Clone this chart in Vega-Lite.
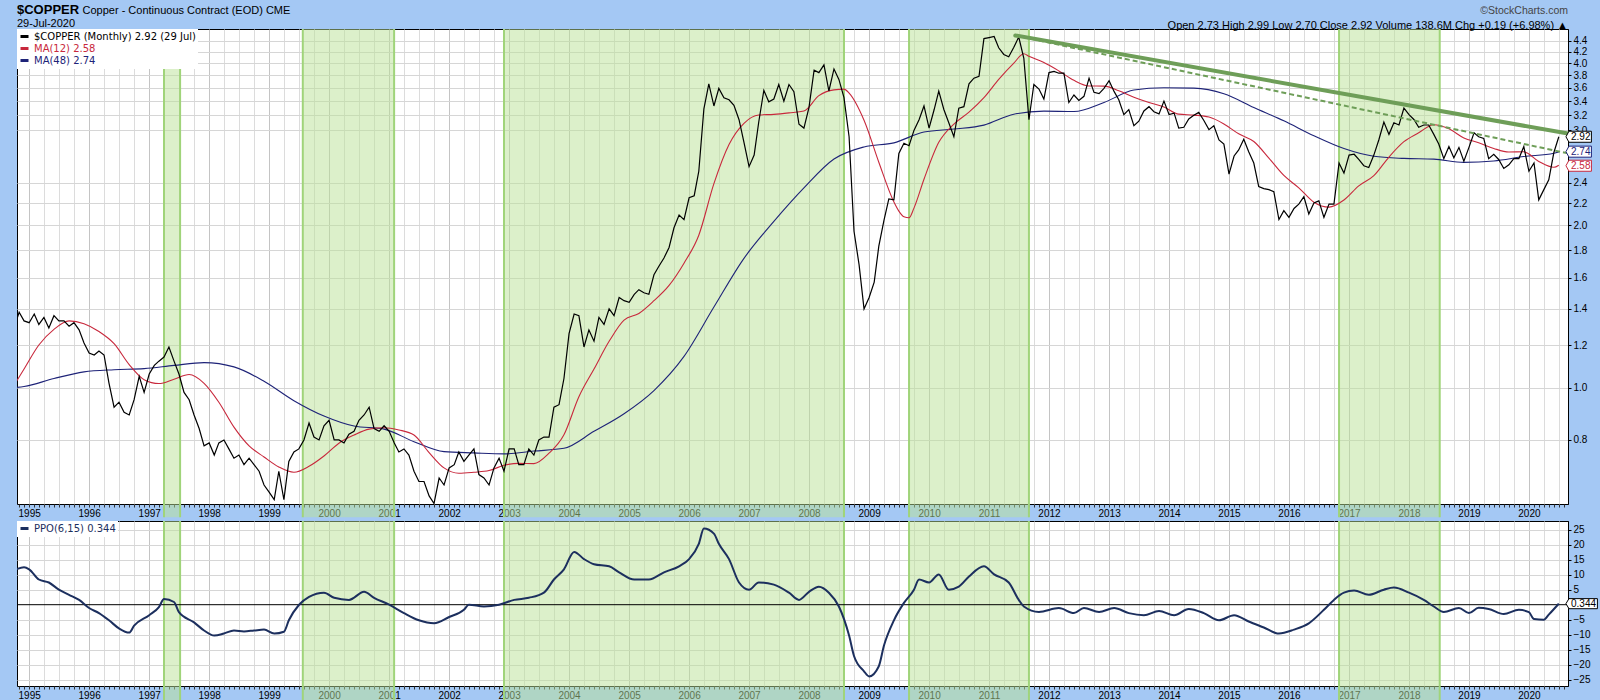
{
"$schema": "https://vega.github.io/schema/vega-lite/v6.json",
"background": "#a4c8f4",
"padding": {"left": 16, "right": 3, "top": 3, "bottom": 0},
"datasets": {
"price": [
{"d":"1994-10-01","v":1.29},{"d":"1994-11-01","v":1.38},{"d":"1994-12-01","v":1.33},
{"d":"1995-01-01","v":1.32},{"d":"1995-02-01","v":1.37},{"d":"1995-03-01","v":1.31},{"d":"1995-04-01","v":1.35},{"d":"1995-05-01","v":1.29},{"d":"1995-06-01","v":1.36},{"d":"1995-07-01","v":1.33},{"d":"1995-08-01","v":1.33},{"d":"1995-09-01","v":1.30},{"d":"1995-10-01","v":1.32},{"d":"1995-11-01","v":1.28},{"d":"1995-12-01","v":1.21},
{"d":"1996-01-01","v":1.16},{"d":"1996-02-01","v":1.15},{"d":"1996-03-01","v":1.17},{"d":"1996-04-01","v":1.15},{"d":"1996-05-01","v":1.02},{"d":"1996-06-01","v":0.92},{"d":"1996-07-01","v":0.94},{"d":"1996-08-01","v":0.90},{"d":"1996-09-01","v":0.89},{"d":"1996-10-01","v":0.95},{"d":"1996-11-01","v":1.05},{"d":"1996-12-01","v":0.98},
{"d":"1997-01-01","v":1.06},{"d":"1997-02-01","v":1.10},{"d":"1997-03-01","v":1.12},{"d":"1997-04-01","v":1.14},{"d":"1997-05-01","v":1.19},{"d":"1997-06-01","v":1.12},{"d":"1997-07-01","v":1.06},{"d":"1997-08-01","v":0.98},{"d":"1997-09-01","v":0.95},{"d":"1997-10-01","v":0.89},{"d":"1997-11-01","v":0.84},{"d":"1997-12-01","v":0.78},
{"d":"1998-01-01","v":0.79},{"d":"1998-02-01","v":0.75},{"d":"1998-03-01","v":0.79},{"d":"1998-04-01","v":0.80},{"d":"1998-05-01","v":0.77},{"d":"1998-06-01","v":0.74},{"d":"1998-07-01","v":0.75},{"d":"1998-08-01","v":0.72},{"d":"1998-09-01","v":0.74},{"d":"1998-10-01","v":0.72},{"d":"1998-11-01","v":0.70},{"d":"1998-12-01","v":0.66},
{"d":"1999-01-01","v":0.64},{"d":"1999-02-01","v":0.62},{"d":"1999-03-01","v":0.70},{"d":"1999-04-01","v":0.62},{"d":"1999-05-01","v":0.73},{"d":"1999-06-01","v":0.76},{"d":"1999-07-01","v":0.77},{"d":"1999-08-01","v":0.80},{"d":"1999-09-01","v":0.86},{"d":"1999-10-01","v":0.81},{"d":"1999-11-01","v":0.80},{"d":"1999-12-01","v":0.85},
{"d":"2000-01-01","v":0.87},{"d":"2000-02-01","v":0.80},{"d":"2000-03-01","v":0.80},{"d":"2000-04-01","v":0.79},{"d":"2000-05-01","v":0.82},{"d":"2000-06-01","v":0.83},{"d":"2000-07-01","v":0.87},{"d":"2000-08-01","v":0.89},{"d":"2000-09-01","v":0.92},{"d":"2000-10-01","v":0.84},{"d":"2000-11-01","v":0.83},{"d":"2000-12-01","v":0.85},
{"d":"2001-01-01","v":0.83},{"d":"2001-02-01","v":0.79},{"d":"2001-03-01","v":0.76},{"d":"2001-04-01","v":0.77},{"d":"2001-05-01","v":0.75},{"d":"2001-06-01","v":0.70},{"d":"2001-07-01","v":0.67},{"d":"2001-08-01","v":0.67},{"d":"2001-09-01","v":0.63},{"d":"2001-10-01","v":0.61},{"d":"2001-11-01","v":0.68},{"d":"2001-12-01","v":0.66},
{"d":"2002-01-01","v":0.71},{"d":"2002-02-01","v":0.72},{"d":"2002-03-01","v":0.76},{"d":"2002-04-01","v":0.73},{"d":"2002-05-01","v":0.75},{"d":"2002-06-01","v":0.77},{"d":"2002-07-01","v":0.69},{"d":"2002-08-01","v":0.68},{"d":"2002-09-01","v":0.66},{"d":"2002-10-01","v":0.71},{"d":"2002-11-01","v":0.74},{"d":"2002-12-01","v":0.70},
{"d":"2003-01-01","v":0.77},{"d":"2003-02-01","v":0.77},{"d":"2003-03-01","v":0.72},{"d":"2003-04-01","v":0.72},{"d":"2003-05-01","v":0.77},{"d":"2003-06-01","v":0.75},{"d":"2003-07-01","v":0.80},{"d":"2003-08-01","v":0.81},{"d":"2003-09-01","v":0.81},{"d":"2003-10-01","v":0.92},{"d":"2003-11-01","v":0.93},{"d":"2003-12-01","v":1.04},
{"d":"2004-01-01","v":1.26},{"d":"2004-02-01","v":1.37},{"d":"2004-03-01","v":1.36},{"d":"2004-04-01","v":1.19},{"d":"2004-05-01","v":1.28},{"d":"2004-06-01","v":1.22},{"d":"2004-07-01","v":1.35},{"d":"2004-08-01","v":1.31},{"d":"2004-09-01","v":1.40},{"d":"2004-10-01","v":1.36},{"d":"2004-11-01","v":1.47},{"d":"2004-12-01","v":1.45},
{"d":"2005-01-01","v":1.44},{"d":"2005-02-01","v":1.49},{"d":"2005-03-01","v":1.52},{"d":"2005-04-01","v":1.50},{"d":"2005-05-01","v":1.49},{"d":"2005-06-01","v":1.62},{"d":"2005-07-01","v":1.68},{"d":"2005-08-01","v":1.74},{"d":"2005-09-01","v":1.82},{"d":"2005-10-01","v":1.98},{"d":"2005-11-01","v":2.09},{"d":"2005-12-01","v":2.05},
{"d":"2006-01-01","v":2.25},{"d":"2006-02-01","v":2.27},{"d":"2006-03-01","v":2.52},{"d":"2006-04-01","v":3.29},{"d":"2006-05-01","v":3.66},{"d":"2006-06-01","v":3.33},{"d":"2006-07-01","v":3.59},{"d":"2006-08-01","v":3.45},{"d":"2006-09-01","v":3.42},{"d":"2006-10-01","v":3.34},{"d":"2006-11-01","v":3.14},{"d":"2006-12-01","v":2.85},
{"d":"2007-01-01","v":2.57},{"d":"2007-02-01","v":2.70},{"d":"2007-03-01","v":3.11},{"d":"2007-04-01","v":3.56},{"d":"2007-05-01","v":3.39},{"d":"2007-06-01","v":3.43},{"d":"2007-07-01","v":3.65},{"d":"2007-08-01","v":3.40},{"d":"2007-09-01","v":3.65},{"d":"2007-10-01","v":3.54},{"d":"2007-11-01","v":3.08},{"d":"2007-12-01","v":3.03},
{"d":"2008-01-01","v":3.31},{"d":"2008-02-01","v":3.88},{"d":"2008-03-01","v":3.84},{"d":"2008-04-01","v":3.97},{"d":"2008-05-01","v":3.55},{"d":"2008-06-01","v":3.90},{"d":"2008-07-01","v":3.73},{"d":"2008-08-01","v":3.45},{"d":"2008-09-01","v":2.92},{"d":"2008-10-01","v":1.95},{"d":"2008-11-01","v":1.69},{"d":"2008-12-01","v":1.40},
{"d":"2009-01-01","v":1.47},{"d":"2009-02-01","v":1.57},{"d":"2009-03-01","v":1.83},{"d":"2009-04-01","v":2.04},{"d":"2009-05-01","v":2.24},{"d":"2009-06-01","v":2.23},{"d":"2009-07-01","v":2.72},{"d":"2009-08-01","v":2.84},{"d":"2009-09-01","v":2.81},{"d":"2009-10-01","v":3.00},{"d":"2009-11-01","v":3.14},{"d":"2009-12-01","v":3.33},
{"d":"2010-01-01","v":3.03},{"d":"2010-02-01","v":3.28},{"d":"2010-03-01","v":3.55},{"d":"2010-04-01","v":3.28},{"d":"2010-05-01","v":3.10},{"d":"2010-06-01","v":2.92},{"d":"2010-07-01","v":3.30},{"d":"2010-08-01","v":3.32},{"d":"2010-09-01","v":3.66},{"d":"2010-10-01","v":3.75},{"d":"2010-11-01","v":3.78},{"d":"2010-12-01","v":4.44},
{"d":"2011-01-01","v":4.46},{"d":"2011-02-01","v":4.48},{"d":"2011-03-01","v":4.27},{"d":"2011-04-01","v":4.15},{"d":"2011-05-01","v":4.11},{"d":"2011-06-01","v":4.28},{"d":"2011-07-01","v":4.47},{"d":"2011-08-01","v":4.08},{"d":"2011-09-01","v":3.14},{"d":"2011-10-01","v":3.65},{"d":"2011-11-01","v":3.58},{"d":"2011-12-01","v":3.43},
{"d":"2012-01-01","v":3.84},{"d":"2012-02-01","v":3.86},{"d":"2012-03-01","v":3.83},{"d":"2012-04-01","v":3.83},{"d":"2012-05-01","v":3.38},{"d":"2012-06-01","v":3.49},{"d":"2012-07-01","v":3.41},{"d":"2012-08-01","v":3.47},{"d":"2012-09-01","v":3.75},{"d":"2012-10-01","v":3.53},{"d":"2012-11-01","v":3.51},{"d":"2012-12-01","v":3.59},
{"d":"2013-01-01","v":3.71},{"d":"2013-02-01","v":3.54},{"d":"2013-03-01","v":3.42},{"d":"2013-04-01","v":3.21},{"d":"2013-05-01","v":3.28},{"d":"2013-06-01","v":3.06},{"d":"2013-07-01","v":3.12},{"d":"2013-08-01","v":3.26},{"d":"2013-09-01","v":3.32},{"d":"2013-10-01","v":3.25},{"d":"2013-11-01","v":3.22},{"d":"2013-12-01","v":3.40},
{"d":"2014-01-01","v":3.21},{"d":"2014-02-01","v":3.23},{"d":"2014-03-01","v":3.03},{"d":"2014-04-01","v":3.04},{"d":"2014-05-01","v":3.15},{"d":"2014-06-01","v":3.20},{"d":"2014-07-01","v":3.24},{"d":"2014-08-01","v":3.13},{"d":"2014-09-01","v":3.01},{"d":"2014-10-01","v":3.06},{"d":"2014-11-01","v":2.88},{"d":"2014-12-01","v":2.83},
{"d":"2015-01-01","v":2.49},{"d":"2015-02-01","v":2.69},{"d":"2015-03-01","v":2.76},{"d":"2015-04-01","v":2.89},{"d":"2015-05-01","v":2.74},{"d":"2015-06-01","v":2.61},{"d":"2015-07-01","v":2.36},{"d":"2015-08-01","v":2.34},{"d":"2015-09-01","v":2.33},{"d":"2015-10-01","v":2.31},{"d":"2015-11-01","v":2.05},{"d":"2015-12-01","v":2.13},
{"d":"2016-01-01","v":2.07},{"d":"2016-02-01","v":2.15},{"d":"2016-03-01","v":2.19},{"d":"2016-04-01","v":2.26},{"d":"2016-05-01","v":2.10},{"d":"2016-06-01","v":2.20},{"d":"2016-07-01","v":2.22},{"d":"2016-08-01","v":2.07},{"d":"2016-09-01","v":2.19},{"d":"2016-10-01","v":2.19},{"d":"2016-11-01","v":2.61},{"d":"2016-12-01","v":2.50},
{"d":"2017-01-01","v":2.70},{"d":"2017-02-01","v":2.71},{"d":"2017-03-01","v":2.65},{"d":"2017-04-01","v":2.58},{"d":"2017-05-01","v":2.56},{"d":"2017-06-01","v":2.70},{"d":"2017-07-01","v":2.88},{"d":"2017-08-01","v":3.11},{"d":"2017-09-01","v":2.95},{"d":"2017-10-01","v":3.10},{"d":"2017-11-01","v":3.07},{"d":"2017-12-01","v":3.30},
{"d":"2018-01-01","v":3.21},{"d":"2018-02-01","v":3.14},{"d":"2018-03-01","v":3.04},{"d":"2018-04-01","v":3.07},{"d":"2018-05-01","v":3.07},{"d":"2018-06-01","v":2.95},{"d":"2018-07-01","v":2.83},{"d":"2018-08-01","v":2.66},{"d":"2018-09-01","v":2.80},{"d":"2018-10-01","v":2.67},{"d":"2018-11-01","v":2.79},{"d":"2018-12-01","v":2.63},
{"d":"2019-01-01","v":2.79},{"d":"2019-02-01","v":2.97},{"d":"2019-03-01","v":2.92},{"d":"2019-04-01","v":2.90},{"d":"2019-05-01","v":2.66},{"d":"2019-06-01","v":2.71},{"d":"2019-07-01","v":2.65},{"d":"2019-08-01","v":2.55},{"d":"2019-09-01","v":2.59},{"d":"2019-10-01","v":2.66},{"d":"2019-11-01","v":2.66},{"d":"2019-12-01","v":2.80},
{"d":"2020-01-01","v":2.52},{"d":"2020-02-01","v":2.61},{"d":"2020-03-01","v":2.23},{"d":"2020-04-01","v":2.33},{"d":"2020-05-01","v":2.43},{"d":"2020-06-01","v":2.73},{"d":"2020-07-01","v":2.92}
],
"ma12": [
{"d":"1994-10-01","v":1.01},{"d":"1994-12-01","v":1.083},{"d":"1995-03-01","v":1.200},{"d":"1995-06-01","v":1.283},{"d":"1995-09-01","v":1.330},{"d":"1995-12-01","v":1.314},
{"d":"1996-03-01","v":1.271},{"d":"1996-06-01","v":1.207},{"d":"1996-09-01","v":1.104},{"d":"1996-12-01","v":1.035},
{"d":"1997-03-01","v":1.018},{"d":"1997-06-01","v":1.037},{"d":"1997-09-01","v":1.058},{"d":"1997-12-01","v":1.019},
{"d":"1998-03-01","v":0.940},{"d":"1998-06-01","v":0.845},{"d":"1998-09-01","v":0.780},{"d":"1998-12-01","v":0.744},
{"d":"1999-03-01","v":0.713},{"d":"1999-06-01","v":0.697},{"d":"1999-09-01","v":0.715},{"d":"1999-12-01","v":0.747},
{"d":"2000-03-01","v":0.789},{"d":"2000-06-01","v":0.817},{"d":"2000-09-01","v":0.838},{"d":"2000-12-01","v":0.843},
{"d":"2001-03-01","v":0.835},{"d":"2001-06-01","v":0.817},{"d":"2001-09-01","v":0.758},{"d":"2001-12-01","v":0.710},
{"d":"2002-03-01","v":0.694},{"d":"2002-06-01","v":0.697},{"d":"2002-09-01","v":0.702},{"d":"2002-12-01","v":0.718},
{"d":"2003-03-01","v":0.724},{"d":"2003-06-01","v":0.723},{"d":"2003-09-01","v":0.756},{"d":"2003-12-01","v":0.818},
{"d":"2004-03-01","v":0.962},{"d":"2004-06-01","v":1.083},{"d":"2004-09-01","v":1.219},{"d":"2004-12-01","v":1.335},
{"d":"2005-03-01","v":1.373},{"d":"2005-06-01","v":1.450},{"d":"2005-09-01","v":1.548},{"d":"2005-12-01","v":1.702},
{"d":"2006-03-01","v":1.918},{"d":"2006-06-01","v":2.390},{"d":"2006-09-01","v":2.825},{"d":"2006-12-01","v":3.093},
{"d":"2007-03-01","v":3.204},{"d":"2007-06-01","v":3.213},{"d":"2007-09-01","v":3.233},{"d":"2007-12-01","v":3.259},
{"d":"2008-03-01","v":3.480},{"d":"2008-06-01","v":3.567},{"d":"2008-08-01","v":3.578},{"d":"2008-09-01","v":3.517},{"d":"2008-12-01","v":3.133},
{"d":"2009-03-01","v":2.619},{"d":"2009-06-01","v":2.210},{"d":"2009-07-01","v":2.126},{"d":"2009-08-01","v":2.075},{"d":"2009-09-01","v":2.066},{"d":"2009-10-01","v":2.153},{"d":"2009-12-01","v":2.435},
{"d":"2010-03-01","v":2.851},{"d":"2010-06-01","v":3.083},{"d":"2010-09-01","v":3.243},{"d":"2010-12-01","v":3.451},
{"d":"2011-03-01","v":3.730},{"d":"2011-06-01","v":3.999},{"d":"2011-08-01","v":4.162},{"d":"2011-09-01","v":4.117},{"d":"2011-12-01","v":4.008},
{"d":"2012-03-01","v":3.868},{"d":"2012-06-01","v":3.715},{"d":"2012-09-01","v":3.627},{"d":"2012-12-01","v":3.624},
{"d":"2013-03-01","v":3.553},{"d":"2013-06-01","v":3.457},{"d":"2013-09-01","v":3.379},{"d":"2013-12-01","v":3.316},
{"d":"2014-03-01","v":3.216},{"d":"2014-06-01","v":3.203},{"d":"2014-09-01","v":3.176},{"d":"2014-12-01","v":3.084},
{"d":"2015-03-01","v":2.957},{"d":"2015-06-01","v":2.861},{"d":"2015-09-01","v":2.665},{"d":"2015-12-01","v":2.475},
{"d":"2016-03-01","v":2.348},{"d":"2016-06-01","v":2.208},{"d":"2016-09-01","v":2.162},{"d":"2016-12-01","v":2.229},
{"d":"2017-03-01","v":2.367},{"d":"2017-06-01","v":2.473},{"d":"2017-09-01","v":2.678},{"d":"2017-12-01","v":2.859},
{"d":"2018-03-01","v":2.970},{"d":"2018-06-01","v":3.074},{"d":"2018-09-01","v":3.020},{"d":"2018-12-01","v":2.905},
{"d":"2019-03-01","v":2.846},{"d":"2019-06-01","v":2.778},{"d":"2019-09-01","v":2.736},{"d":"2019-12-01","v":2.738},
{"d":"2020-03-01","v":2.628},{"d":"2020-06-01","v":2.563},{"d":"2020-07-01","v":2.586}
],
"ma48": [
{"d":"1994-10-01","v":1.00},{"d":"1994-12-01","v":1.005},{"d":"1995-06-01","v":1.04},{"d":"1995-12-01","v":1.07},{"d":"1996-06-01","v":1.08},{"d":"1996-12-01","v":1.085},
{"d":"1997-06-01","v":1.10},{"d":"1997-12-01","v":1.113},{"d":"1998-06-01","v":1.093},{"d":"1998-12-01","v":1.028},
{"d":"1999-06-01","v":0.946},{"d":"1999-12-01","v":0.886},{"d":"2000-06-01","v":0.849},{"d":"2000-12-01","v":0.838},
{"d":"2001-06-01","v":0.794},{"d":"2001-12-01","v":0.761},{"d":"2002-06-01","v":0.757},{"d":"2002-12-01","v":0.754},
{"d":"2003-06-01","v":0.763},{"d":"2003-12-01","v":0.772},{"d":"2004-06-01","v":0.830},{"d":"2004-12-01","v":0.895},
{"d":"2005-06-01","v":0.988},{"d":"2005-12-01","v":1.143},{"d":"2006-06-01","v":1.411},{"d":"2006-12-01","v":1.737},
{"d":"2007-06-01","v":2.034},{"d":"2007-12-01","v":2.347},{"d":"2008-06-01","v":2.655},{"d":"2008-12-01","v":2.796},
{"d":"2009-06-01","v":2.845},{"d":"2009-12-01","v":2.980},{"d":"2010-06-01","v":3.018},{"d":"2010-12-01","v":3.069},
{"d":"2011-06-01","v":3.215},{"d":"2011-12-01","v":3.257},{"d":"2012-06-01","v":3.252},{"d":"2012-12-01","v":3.380},
{"d":"2013-06-01","v":3.564},{"d":"2013-12-01","v":3.600},{"d":"2014-06-01","v":3.594},{"d":"2014-12-01","v":3.508},
{"d":"2015-06-01","v":3.309},{"d":"2015-12-01","v":3.125},{"d":"2016-06-01","v":2.932},{"d":"2016-12-01","v":2.776},
{"d":"2017-06-01","v":2.686},{"d":"2017-12-01","v":2.662},{"d":"2018-06-01","v":2.654},{"d":"2018-12-01","v":2.617},
{"d":"2019-06-01","v":2.633},{"d":"2019-12-01","v":2.683},{"d":"2020-06-01","v":2.722},{"d":"2020-07-01","v":2.737}
],
"ppo": [
{"d":"1994-10-01","v":11.5},{"d":"1994-12-01","v":12.5},{"d":"1995-01-01","v":11.8},{"d":"1995-03-01","v":8.4},{"d":"1995-05-01","v":7.4},{"d":"1995-07-01","v":5.0},{"d":"1995-09-01","v":3.3},{"d":"1995-11-01","v":1.6},
{"d":"1996-01-01","v":-1.1},{"d":"1996-03-01","v":-2.8},{"d":"1996-05-01","v":-5.2},{"d":"1996-07-01","v":-7.9},{"d":"1996-09-01","v":-9.3},{"d":"1996-10-01","v":-7.0},
{"d":"1997-01-01","v":-3.5},{"d":"1997-03-01","v":-0.8},{"d":"1997-04-01","v":1.9},{"d":"1997-06-01","v":0.9},{"d":"1997-07-01","v":-2.5},{"d":"1997-10-01","v":-5.9},{"d":"1997-12-01","v":-8.6},
{"d":"1998-02-01","v":-10.3},{"d":"1998-04-01","v":-9.6},{"d":"1998-06-01","v":-8.6},{"d":"1998-08-01","v":-8.9},{"d":"1998-10-01","v":-8.6},{"d":"1998-12-01","v":-8.3},
{"d":"1999-02-01","v":-9.6},{"d":"1999-04-01","v":-9.0},{"d":"1999-05-01","v":-5.2},{"d":"1999-07-01","v":-0.1},{"d":"1999-09-01","v":2.6},{"d":"1999-12-01","v":4.0},
{"d":"2000-02-01","v":2.3},{"d":"2000-05-01","v":1.6},{"d":"2000-08-01","v":4.3},{"d":"2000-10-01","v":2.3},
{"d":"2001-01-01","v":0.0},{"d":"2001-04-01","v":-2.8},{"d":"2001-07-01","v":-5.2},{"d":"2001-10-01","v":-6.2},
{"d":"2002-01-01","v":-4.1},{"d":"2002-04-01","v":-1.7},{"d":"2002-05-01","v":0.0},{"d":"2002-08-01","v":-0.6},{"d":"2002-11-01","v":0.0},
{"d":"2003-02-01","v":1.6},{"d":"2003-05-01","v":2.3},{"d":"2003-08-01","v":4.0},{"d":"2003-10-01","v":8.4},{"d":"2003-12-01","v":11.8},
{"d":"2004-02-01","v":17.6},{"d":"2004-04-01","v":15.2},{"d":"2004-06-01","v":13.5},{"d":"2004-09-01","v":12.8},{"d":"2004-11-01","v":10.8},
{"d":"2005-02-01","v":8.4},{"d":"2005-05-01","v":8.4},{"d":"2005-08-01","v":10.8},{"d":"2005-11-01","v":12.8},
{"d":"2006-01-01","v":15.2},{"d":"2006-03-01","v":20.3},{"d":"2006-04-01","v":25.4},{"d":"2006-06-01","v":23.7},{"d":"2006-07-01","v":20.3},{"d":"2006-09-01","v":15.2},{"d":"2006-11-01","v":7.4},
{"d":"2007-01-01","v":5.0},{"d":"2007-03-01","v":7.4},{"d":"2007-06-01","v":6.7},{"d":"2007-09-01","v":4.0},{"d":"2007-11-01","v":1.6},
{"d":"2008-01-01","v":4.3},{"d":"2008-03-01","v":6.0},{"d":"2008-05-01","v":4.0},{"d":"2008-07-01","v":-0.6},{"d":"2008-09-01","v":-10.3},{"d":"2008-10-01","v":-17.1},{"d":"2008-12-01","v":-22.2},
{"d":"2009-01-01","v":-23.9},{"d":"2009-03-01","v":-20.5},{"d":"2009-04-01","v":-13.7},{"d":"2009-06-01","v":-5.2},{"d":"2009-08-01","v":0.6},{"d":"2009-10-01","v":5.0},{"d":"2009-11-01","v":8.4},
{"d":"2010-01-01","v":7.4},{"d":"2010-03-01","v":10.1},{"d":"2010-05-01","v":5.0},{"d":"2010-07-01","v":6.0},{"d":"2010-09-01","v":9.4},{"d":"2010-12-01","v":12.8},
{"d":"2011-02-01","v":10.1},{"d":"2011-05-01","v":7.4},{"d":"2011-07-01","v":1.6},{"d":"2011-08-01","v":-0.6},{"d":"2011-11-01","v":-2.4},
{"d":"2012-03-01","v":-1.1},{"d":"2012-06-01","v":-2.8},{"d":"2012-08-01","v":-1.1},{"d":"2012-11-01","v":-2.4},
{"d":"2013-02-01","v":-1.1},{"d":"2013-05-01","v":-2.8},{"d":"2013-08-01","v":-3.5},{"d":"2013-11-01","v":-2.1},
{"d":"2014-02-01","v":-3.5},{"d":"2014-05-01","v":-1.4},{"d":"2014-08-01","v":-2.8},{"d":"2014-11-01","v":-5.2},
{"d":"2015-02-01","v":-3.5},{"d":"2015-05-01","v":-5.6},{"d":"2015-08-01","v":-7.6},{"d":"2015-11-01","v":-9.6},
{"d":"2016-02-01","v":-8.3},{"d":"2016-05-01","v":-6.2},{"d":"2016-08-01","v":-1.7},{"d":"2016-10-01","v":1.6},{"d":"2016-12-01","v":4.0},
{"d":"2017-02-01","v":4.7},{"d":"2017-05-01","v":3.3},{"d":"2017-08-01","v":5.0},{"d":"2017-10-01","v":5.7},
{"d":"2018-01-01","v":4.0},{"d":"2018-04-01","v":1.6},{"d":"2018-06-01","v":-0.6},{"d":"2018-08-01","v":-2.4},{"d":"2018-11-01","v":-1.1},
{"d":"2019-01-01","v":-2.8},{"d":"2019-03-01","v":-1.0},{"d":"2019-05-01","v":-1.4},{"d":"2019-08-01","v":-3.1},{"d":"2019-11-01","v":-1.7},
{"d":"2020-01-01","v":-2.5},{"d":"2020-02-01","v":-4.8},{"d":"2020-04-01","v":-5.0},{"d":"2020-05-01","v":-3.3},{"d":"2020-07-01","v":0.344}
],
"bands": [
{"d":"1997-04-01","d2":"1997-07-08"},
{"d":"1999-07-25","d2":"2001-01-31"},
{"d":"2002-12-01","d2":"2008-08-01"},
{"d":"2009-09-01","d2":"2011-09-01"},
{"d":"2016-11-01","d2":"2018-07-07"}
],
"trendSolid": [{"d":"2011-06-10","v":4.5},{"d":"2020-08-26","v":2.96}],
"trendDash": [{"d":"2011-06-10","v":4.5},{"d":"2020-08-26","v":2.72}],
"lastTop": [
{"d":"2020-08-26","v":2.92,"t":"2.92","s":"a"},
{"d":"2020-08-26","v":2.74,"t":"2.74","s":"c"},
{"d":"2020-08-26","v":2.58,"t":"2.58","s":"b"}
],
"lastPpo": [{"d":"2020-08-26","v":0.344,"t":"0.344"}]
},
"title": {
"text": "©StockCharts.com",
"subtitle": "Open 2.73  High 2.99  Low 2.70  Close 2.92  Volume 138.6M  Chg +0.19 (+6.98%) ▲",
"anchor": "end",
"frame": "group",
"font": "Liberation Sans",
"fontSize": 10.5,
"fontWeight": "normal",
"color": "#444444",
"subtitleFont": "Liberation Sans",
"subtitleFontSize": 11,
"subtitleColor": "#000000",
"subtitlePadding": 3,
"offset": -27
},
"spacing": 0,
"resolve": {"scale": {"color": "independent"}, "legend": {"color": "independent"}},
"vconcat": [
{
"width": 1551,
"height": 475,
"title": {
"text": "$COPPER",
"subtitle": "29-Jul-2020",
"anchor": "start",
"offset": -25,
"font": "Liberation Sans",
"fontSize": 13,
"fontWeight": "bold",
"color": "#000000",
"subtitleFont": "Liberation Sans",
"subtitleFontSize": 11,
"subtitleColor": "#000000",
"subtitlePadding": 1
},
"resolve": {"axis": {"y": "independent"}},
"layer": [
{
"data": {"name": "bands"},
"mark": {"type": "rect", "fill": "#b9e296", "fillOpacity": 0.5},
"encoding": {
"x": {"field": "d", "type": "temporal",
"scale": {"type": "utc", "domain": [{"year": 1994, "month": 10, "date": 19, "utc": true}, {"year": 2020, "month": 8, "date": 26, "utc": true}]},
"axis": {"title": null, "orient": "bottom", "tickCount": {"interval": "month", "step": 1},
"labelExpr": "utcmonth(datum.value) == 0 ? utcFormat(datum.value, '%Y') : ''",
"labelOverlap": false, "labelFlush": false, "labelBound": false, "labelPadding": 1, "labelFontSize": 10,
"tickSize": 3, "tickColor": "#333333", "domain": false, "grid": true,
"gridColor": {"condition": {"test": "utcmonth(datum.value) == 0", "value": "#c4c4c4"}, "value": "#dcdcdc"},
"gridOpacity": {"condition": {"test": "utcmonth(datum.value) % 3 == 0", "value": 1}, "value": 0},
"minExtent": 14, "maxExtent": 14}},
"x2": {"field": "d2"},
"y": {"datum": 4.626, "type": "quantitative",
"scale": {"type": "log", "domain": [0.6086, 4.626], "nice": false, "zero": false},
"axis": {"title": null, "orient": "right", "values": [0.8,1.0,1.2,1.4,1.6,1.8,2.0,2.2,2.4,3.0,3.2,3.4,3.6,3.8,4.0,4.2,4.4],
"format": ".1f", "tickSize": 3, "tickColor": "#000000", "domainColor": "#000000", "labelPadding": 2, "labelFontSize": 10,
"labelOverlap": false, "grid": true, "gridColor": "#d6d6d6", "minExtent": 30, "maxExtent": 30}},
"y2": {"datum": 0.575}
}
},
{
"data": {"name": "bands"},
"mark": {"type": "rule", "stroke": "#a0d47a", "strokeWidth": 2},
"encoding": {
"x": {"field": "d", "type": "temporal"},
"y": {"datum": 4.626, "type": "quantitative",
"axis": {"orient": "left", "labels": false, "ticks": false, "domain": false, "grid": false,
"title": "Copper - Continuous Contract (EOD) CME", "titleAngle": 0, "titleX": 65, "titleY": -16,
"titleAlign": "left", "titleBaseline": "alphabetic", "titleFont": "Liberation Sans", "titleFontSize": 11,
"titleFontWeight": "normal", "titleColor": "#000000", "minExtent": 0, "maxExtent": 0}},
"y2": {"datum": 0.575}
}
},
{
"data": {"name": "bands"},
"mark": {"type": "rule", "stroke": "#a0d47a", "strokeWidth": 2},
"encoding": {
"x": {"field": "d2", "type": "temporal"},
"y": {"datum": 4.626, "type": "quantitative", "axis": null},
"y2": {"datum": 0.575}
}
},
{
"data": {"name": "ma48"},
"mark": {"type": "line", "strokeWidth": 1.1, "interpolate": "monotone", "clip": true},
"encoding": {
"x": {"field": "d", "type": "temporal"},
"y": {"field": "v", "type": "quantitative", "axis": null},
"color": {"datum": "MA(48) 2.74", "type": "nominal",
"scale": {"domain": ["$COPPER (Monthly) 2.92 (29 Jul)", "MA(12) 2.58", "MA(48) 2.74"], "range": ["#000000", "#c8283c", "#1e2378"]},
"legend": {"title": null, "orient": "top-left", "offset": 0, "padding": 2, "fillColor": "#ffffff",
"labelFont": "DejaVu Sans", "labelFontSize": 10, "labelLimit": 400, "labelOffset": 4,
"symbolType": "stroke", "symbolSize": 64, "symbolStrokeWidth": 3, "rowPadding": -2,
"encode": {"labels": {"update": {"fill": [
{"test": "datum.value === 'MA(12) 2.58'", "value": "#c8283c"},
{"test": "datum.value === 'MA(48) 2.74'", "value": "#1e2378"},
{"value": "#000000"}]}}}}
}
}
},
{
"data": {"name": "ma12"},
"mark": {"type": "line", "strokeWidth": 1.1, "interpolate": "monotone", "clip": true},
"encoding": {
"x": {"field": "d", "type": "temporal"},
"y": {"field": "v", "type": "quantitative", "axis": null},
"color": {"datum": "MA(12) 2.58", "type": "nominal"}
}
},
{
"data": {"name": "price"},
"mark": {"type": "line", "strokeWidth": 1.2, "clip": true},
"encoding": {
"x": {"field": "d", "type": "temporal"},
"y": {"field": "v", "type": "quantitative", "axis": null},
"color": {"datum": "$COPPER (Monthly) 2.92 (29 Jul)", "type": "nominal"}
}
},
{
"data": {"name": "trendSolid"},
"mark": {"type": "line", "stroke": "#6e9e58", "strokeWidth": 4, "strokeCap": "round"},
"encoding": {
"x": {"field": "d", "type": "temporal"},
"y": {"field": "v", "type": "quantitative", "axis": null}
}
},
{
"data": {"name": "trendDash"},
"mark": {"type": "line", "stroke": "#6e9e58", "strokeWidth": 2, "strokeDash": [5, 3]},
"encoding": {
"x": {"field": "d", "type": "temporal"},
"y": {"field": "v", "type": "quantitative", "axis": null}
}
},
{
"data": {"name": "lastTop"},
"mark": {"type": "point", "shape": "M-0.17,0L0.08,-0.46L1.95,-0.46L1.95,0.46L0.08,0.46Z", "size": 576, "fill": "#ffffff", "fillOpacity": 1, "opacity": 1, "strokeWidth": 1},
"encoding": {
"x": {"field": "d", "type": "temporal"},
"y": {"field": "v", "type": "quantitative", "axis": null},
"stroke": {"field": "s", "type": "nominal", "scale": {"domain": ["a", "b", "c"], "range": ["#000000", "#c8283c", "#1e2378"]}, "legend": null}
}
},
{
"data": {"name": "lastTop"},
"mark": {"type": "text", "align": "left", "baseline": "middle", "dx": 3, "font": "Liberation Sans", "fontSize": 10},
"encoding": {
"x": {"field": "d", "type": "temporal"},
"y": {"field": "v", "type": "quantitative", "axis": null},
"text": {"field": "t"},
"fill": {"field": "s", "type": "nominal", "scale": {"domain": ["a", "b", "c"], "range": ["#000000", "#c8283c", "#1e2378"]}, "legend": null}
}
}
]
},
{
"width": 1551,
"height": 165,
"resolve": {"axis": {"y": "independent"}},
"layer": [
{
"data": {"name": "bands"},
"mark": {"type": "rect", "fill": "#b9e296", "fillOpacity": 0.5},
"encoding": {
"x": {"field": "d", "type": "temporal",
"scale": {"type": "utc", "domain": [{"year": 1994, "month": 10, "date": 19, "utc": true}, {"year": 2020, "month": 8, "date": 26, "utc": true}]},
"axis": {"title": null, "orient": "bottom", "tickCount": {"interval": "month", "step": 1},
"labelExpr": "utcmonth(datum.value) == 0 ? utcFormat(datum.value, '%Y') : ''",
"labelOverlap": false, "labelFlush": false, "labelBound": false, "labelPadding": 1, "labelFontSize": 10,
"tickSize": 3, "tickColor": "#333333", "domain": false, "grid": true,
"gridColor": {"condition": {"test": "utcmonth(datum.value) == 0", "value": "#c4c4c4"}, "value": "#dcdcdc"},
"gridOpacity": {"condition": {"test": "utcmonth(datum.value) % 3 == 0", "value": 1}, "value": 0},
"minExtent": 17, "maxExtent": 17}},
"x2": {"field": "d2"},
"y": {"datum": 27.9, "type": "quantitative",
"scale": {"domain": [-27.1, 27.9], "nice": false, "zero": false},
"axis": {"title": null, "orient": "right", "values": [-25,-20,-15,-10,-5,5,10,15,20,25],
"tickSize": 3, "tickColor": "#000000", "domainColor": "#000000", "labelPadding": 2, "labelFontSize": 10,
"labelOverlap": false, "grid": true, "gridColor": "#d6d6d6", "minExtent": 30, "maxExtent": 30}},
"y2": {"datum": -32.7}
}
},
{
"data": {"name": "bands"},
"mark": {"type": "rule", "stroke": "#a0d47a", "strokeWidth": 2},
"encoding": {
"x": {"field": "d", "type": "temporal"},
"y": {"datum": 27.9, "type": "quantitative", "axis": null},
"y2": {"datum": -32.7}
}
},
{
"data": {"name": "bands"},
"mark": {"type": "rule", "stroke": "#a0d47a", "strokeWidth": 2},
"encoding": {
"x": {"field": "d2", "type": "temporal"},
"y": {"datum": 27.9, "type": "quantitative", "axis": null},
"y2": {"datum": -32.7}
}
},
{
"data": {"values": [{"z": 0}]},
"mark": {"type": "rule", "stroke": "#000000", "strokeWidth": 1},
"encoding": {
"y": {"field": "z", "type": "quantitative", "axis": null}
}
},
{
"data": {"name": "ppo"},
"mark": {"type": "line", "strokeWidth": 2, "interpolate": "monotone", "clip": true},
"encoding": {
"x": {"field": "d", "type": "temporal"},
"y": {"field": "v", "type": "quantitative", "axis": null},
"color": {"datum": "PPO(6,15) 0.344", "type": "nominal",
"scale": {"domain": ["PPO(6,15) 0.344"], "range": ["#1c2f5e"]},
"legend": {"title": null, "orient": "top-left", "offset": 0, "padding": 2, "fillColor": "#ffffff",
"labelFont": "DejaVu Sans", "labelFontSize": 10, "labelColor": "#1c2f5e", "labelOffset": 4,
"symbolType": "stroke", "symbolSize": 64, "symbolStrokeWidth": 3}}
}
},
{
"data": {"name": "lastPpo"},
"mark": {"type": "point", "shape": "M-0.17,0L0.08,-0.42L2.45,-0.42L2.45,0.42L0.08,0.42Z", "size": 576, "fill": "#ffffff", "fillOpacity": 1, "opacity": 1, "stroke": "#000000", "strokeWidth": 1},
"encoding": {
"x": {"field": "d", "type": "temporal"},
"y": {"field": "v", "type": "quantitative", "axis": null}
}
},
{
"data": {"name": "lastPpo"},
"mark": {"type": "text", "align": "left", "baseline": "middle", "dx": 3, "font": "Liberation Sans", "fontSize": 10, "fill": "#000000"},
"encoding": {
"x": {"field": "d", "type": "temporal"},
"y": {"field": "v", "type": "quantitative", "axis": null},
"text": {"field": "t"}
}
}
]
}
],
"config": {
"view": {"stroke": "#000000", "strokeWidth": 1, "fill": "#ffffff"},
"axis": {"labelFont": "Liberation Sans", "labelColor": "#000000", "titleFont": "Liberation Sans"},
"font": "Liberation Sans"
}
}
